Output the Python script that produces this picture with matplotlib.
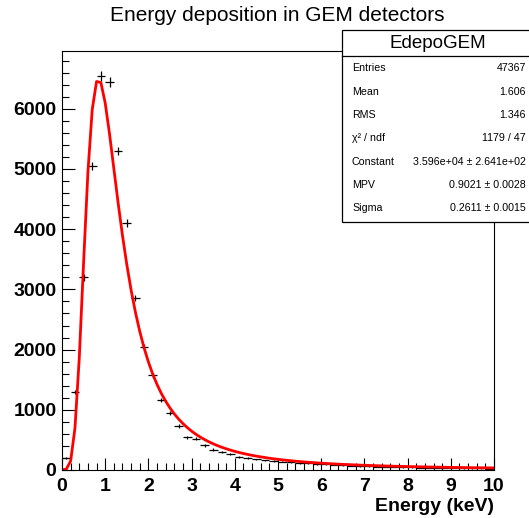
import numpy as np
import matplotlib
matplotlib.use("Agg")
import matplotlib.pyplot as plt
from matplotlib.patches import Rectangle
from matplotlib.ticker import MultipleLocator

plt.rcParams['font.family'] = ['Liberation Sans', 'DejaVu Sans']

# histogram EdepoGEM: 50 bins, 0-10 keV
bin_edges = np.linspace(0, 10, 51)
counts = np.array([200, 1300, 3200, 5050, 6550, 6450, 5300, 4100, 2860, 2050,
                   1570, 1160, 950, 730, 540, 520, 410, 340, 300, 260,
                   220, 195, 175, 160, 150, 140, 128, 118, 108, 100,
                   92, 85, 78, 72, 66, 62, 58, 54, 50, 46,
                   44, 41, 38, 36, 34, 32, 30, 28, 26, 24])

# landau fit results
fit_const = 3.596e4
fit_mpv = 0.9021
fit_sigma = 0.2611

stat_names = ["Entries", "Mean", "RMS", "χ² / ndf", "Constant", "MPV", "Sigma"]
stat_values = ["47367", "1.606", "1.346", "1179 / 47",
               "3.596e+04 ± 2.641e+02", "0.9021 ± 0.0028", "0.2611 ± 0.0015"]


def landau(lam):
    # p(l) = 1/pi * int_0^inf exp(-t ln t - l t) sin(pi t) dt
    t = np.linspace(0, 50, 50001)
    t[0] = 1e-12
    f = np.exp(-t * np.log(t) - lam[:, None] * t) * np.sin(np.pi * t)
    return np.trapezoid(f, t, axis=1) / np.pi


centers = 0.5 * (bin_edges[:-1] + bin_edges[1:])
width = bin_edges[1] - bin_edges[0]

xf = np.linspace(0, 10, 101)
yf = fit_const * landau((xf - fit_mpv) / fit_sigma)

fig = plt.figure(figsize=(5.29, 5.18), dpi=100)
ax = fig.add_axes([62/529, 48/518, 432/529, 419/518])

ax.errorbar(centers, counts, xerr=width/2, yerr=np.sqrt(counts), fmt='none',
            ecolor='black', elinewidth=0.9, capsize=0)
ax.plot(xf, yf, color='red', lw=2)

ax.set_xlim(0, 10)
ax.set_ylim(0, 6960)
ax.xaxis.set_major_locator(MultipleLocator(1))
ax.xaxis.set_minor_locator(MultipleLocator(0.2))
ax.yaxis.set_major_locator(MultipleLocator(1000))
ax.yaxis.set_minor_locator(MultipleLocator(200))
ax.tick_params(which='both', direction='in', top=False, right=False, width=0.8)
ax.tick_params(which='major', length=9, labelsize=14, pad=4)
ax.tick_params(which='minor', length=4.7)
ax.tick_params(axis='x', pad=6)
for lab in ax.get_xticklabels() + ax.get_yticklabels():
    lab.set_fontweight('bold')
for s in ax.spines.values():
    s.set_linewidth(0.8)

ax.set_xlabel("Energy (keV)", fontsize=14, fontweight='bold', loc='right',
              labelpad=2)

fig.text(0.524, 0.971, "Energy deposition in GEM detectors", ha='center',
         va='center', fontsize=15)

# stats box
bx0, bx1 = 342/529, 1.01
by0, by1 = 1 - 222/518, 1 - 30/518
fig.patches.append(Rectangle((bx0, by0), bx1 - bx0, by1 - by0,
                             transform=fig.transFigure, facecolor='white',
                             edgecolor='black', lw=0.9, zorder=5))
hy = 1 - 56/518
fig.add_artist(plt.Line2D([bx0, bx1], [hy, hy], transform=fig.transFigure,
                          color='black', lw=0.9, zorder=6))
fig.text(438/529, 1 - 43/518, "EdepoGEM", ha='center',
         va='center', fontsize=13.5, zorder=7)
row_y = [68.3, 91.7, 114.7, 138.3, 161.7, 185, 208.3]
for name, val, ry in zip(stat_names, stat_values, row_y):
    fig.text(352/529, 1 - ry/518, name, ha='left', va='center',
             fontsize=7.7, zorder=7)
    fig.text(526/529, 1 - ry/518, val, ha='right', va='center',
             fontsize=7.7, zorder=7)

fig.savefig("out.png", dpi=100)
